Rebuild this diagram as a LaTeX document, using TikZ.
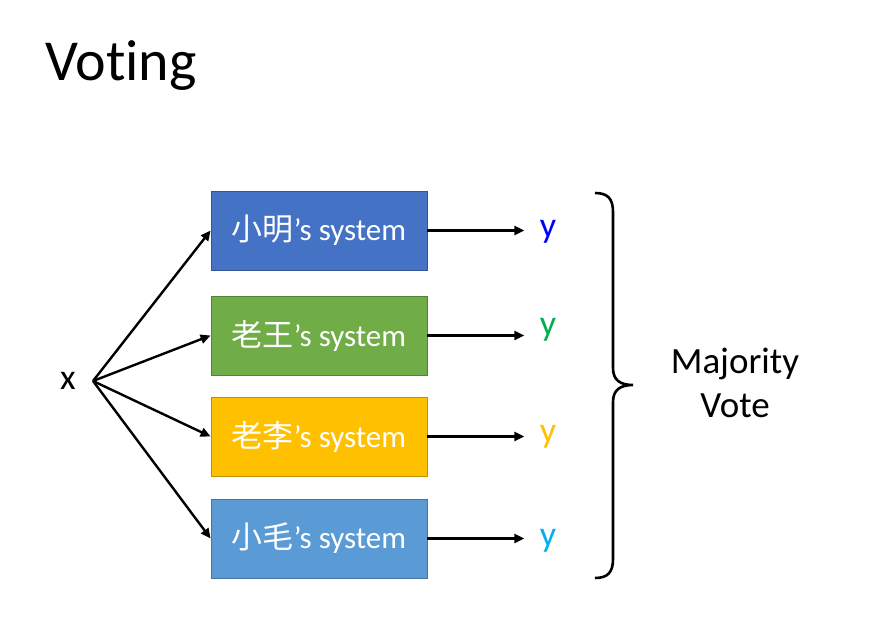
\documentclass[tikz,border=0pt]{standalone}
\usepackage{fontspec}
\setmainfont{Carlito}[Ligatures=CommonOff]
\newfontfamily\cjk{Noto Sans CJK TC}
\usetikzlibrary{arrows.meta}

\definecolor{sysblue}{HTML}{4472C4}
\definecolor{sysgreen}{HTML}{70AD47}
\definecolor{sysgold}{HTML}{FFC000}
\definecolor{syssky}{HTML}{5B9BD5}
\definecolor{ygreen}{HTML}{00B050}
\definecolor{ysky}{HTML}{00B0F0}

\begin{document}
\begin{tikzpicture}[x=1pt, y=-1pt,
    system/.style={draw=#1!75!black, fill=#1, line width=0.8pt, text=white,
        minimum width=216pt, minimum height=79pt, inner sep=0pt,
        font=\fontsize{31}{34}\selectfont},
    label/.style={font=\fontsize{36}{40}\selectfont},
    arr/.style={-{Triangle[length=10pt, width=9pt]}, line width=2.4pt}]

    \useasboundingbox (0,0) rectangle (880,629);

    % title
    \node[anchor=base west, font=\fontsize{58}{64}\selectfont, inner sep=0pt] (title) at (45,80) {Voting};

    % input
    \node[label] (x) at (68,381) {x};
    \coordinate (fork) at (93,381);

    % the four systems
    \node[system=sysblue] (ming) at (319,230.5) {{\cjk 小明}’s system};
    \node[system=sysgreen] (wang) at (319,335.5) {{\cjk 老王}’s system};
    \node[system=sysgold] (li) at (319,436.5) {{\cjk 老李}’s system};
    \node[system=syssky] (mao) at (319,538.5) {{\cjk 小毛}’s system};

    % outputs
    \node[label, text=blue] (y1) at (548,232) {y};
    \node[label, text=ygreen] (y2) at (548,330) {y};
    \node[label, text=sysgold] (y3) at (548,437) {y};
    \node[label, text=ysky] (y4) at (548,541) {y};

    % x to the systems
    \draw[arr] (fork) -- (ming.west);
    \draw[arr] (fork) -- (wang.west);
    \draw[arr] (fork) -- (li.west);
    \draw[arr] (fork) -- (mao.west);

    % systems to y
    \draw[arr] (ming.east) -- ++(97,0);
    \draw[arr] (wang.east) -- ++(97,0);
    \draw[arr] (li.east) -- ++(97,0);
    \draw[arr] (mao.east) -- ++(97,0);

    % brace
    \draw[line width=2.6pt] (595,193) .. controls (608,193) and (613,199) .. (613,212)
        -- (613,368) .. controls (613,380) and (620,385) .. (633,385)
        .. controls (620,385) and (613,390) .. (613,402)
        -- (613,559) .. controls (613,572) and (608,578) .. (595,578);

    % majority vote
    \node[align=center, font=\fontsize{37}{44}\selectfont] (vote) at (735,383) {Majority\\Vote};

\end{tikzpicture}
\end{document}
